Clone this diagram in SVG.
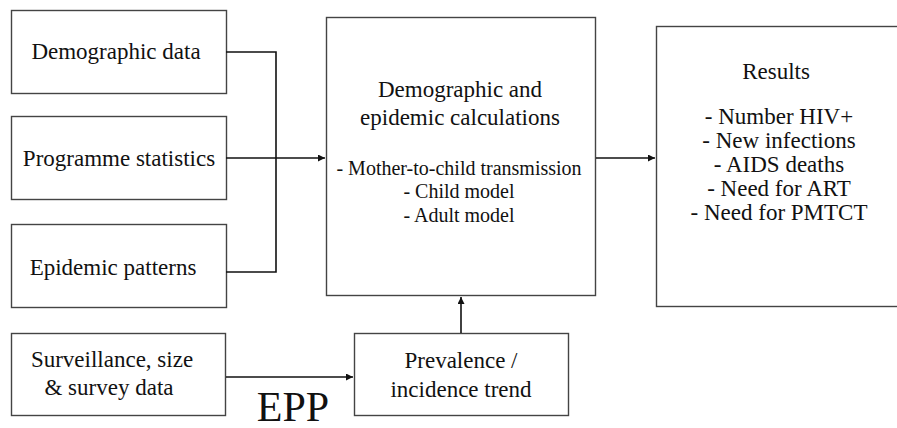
<svg xmlns="http://www.w3.org/2000/svg" width="897" height="428" viewBox="0 0 897 428">
<style>
.box{fill:#fff;stroke:#444;stroke-width:1.4}
.t{fill:#111;text-anchor:middle;font-family:"Times New Roman","Liberation Serif",Tinos,"DejaVu Serif","Noto Serif",FreeSerif,Georgia,serif}
.l{font-size:23px}
.s{font-size:20px}
.c{fill:none;stroke:#111;stroke-width:1.6}
</style>
<defs>
<marker id="ah" viewBox="0 0 10 10" refX="10" refY="5" markerWidth="9" markerHeight="7" markerUnits="userSpaceOnUse" orient="auto">
<path d="M0,0 L10,5 L0,10 z" fill="#111"/>
</marker>
</defs>
<rect width="897" height="428" fill="#fff"/>
<g id="demographic-data">
<rect class="box" x="11.5" y="10.5" width="215" height="83"/>
<text class="t l" x="116" y="59">Demographic data</text>
</g>
<g id="programme-statistics">
<rect class="box" x="11.5" y="116.5" width="215" height="83"/>
<text class="t l" x="119" y="166">Programme statistics</text>
</g>
<g id="epidemic-patterns">
<rect class="box" x="11.5" y="224.5" width="215" height="83"/>
<text class="t l" x="113" y="275">Epidemic patterns</text>
</g>
<g id="calculations">
<rect class="box" x="326.5" y="17.5" width="269" height="278"/>
<text class="t l" x="460" y="97">Demographic and</text>
<text class="t l" x="460" y="125">epidemic calculations</text>
<text class="t s" x="459" y="175">- Mother-to-child transmission</text>
<text class="t s" x="459" y="198">- Child model</text>
<text class="t s" x="459" y="222">- Adult model</text>
</g>
<g id="results">
<rect class="box" x="656.5" y="26.5" width="250" height="280"/>
<text class="t l" x="776" y="79">Results</text>
<text class="t l" x="779" y="124">- Number HIV+</text>
<text class="t l" x="779" y="148">- New infections</text>
<text class="t l" x="779" y="172">- AIDS deaths</text>
<text class="t l" x="779" y="196">- Need for ART</text>
<text class="t l" x="779" y="220">- Need for PMTCT</text>
</g>
<g id="surveillance">
<rect class="box" x="11.5" y="333.5" width="214" height="82"/>
<text class="t l" x="112" y="367">Surveillance, size</text>
<text class="t l" x="109" y="395">&amp; survey data</text>
</g>
<g id="prevalence">
<rect class="box" x="354.5" y="333.5" width="214" height="82"/>
<text class="t l" x="461" y="368">Prevalence /</text>
<text class="t l" x="461" y="397">incidence trend</text>
</g>
<g id="epp-label">
<text class="t" style="font-size:42px" x="293" y="421">EPP</text>
</g>
<g id="connectors">
<path class="c" d="M226,52 H276 V272 H226"/>
<path class="c" d="M226,158 H325" marker-end="url(#ah)"/>
<path class="c" d="M596,158 H655" marker-end="url(#ah)"/>
<path class="c" d="M226,377 H353" marker-end="url(#ah)"/>
<path class="c" d="M461,333 V297" marker-end="url(#ah)"/>
</g>
</svg>
